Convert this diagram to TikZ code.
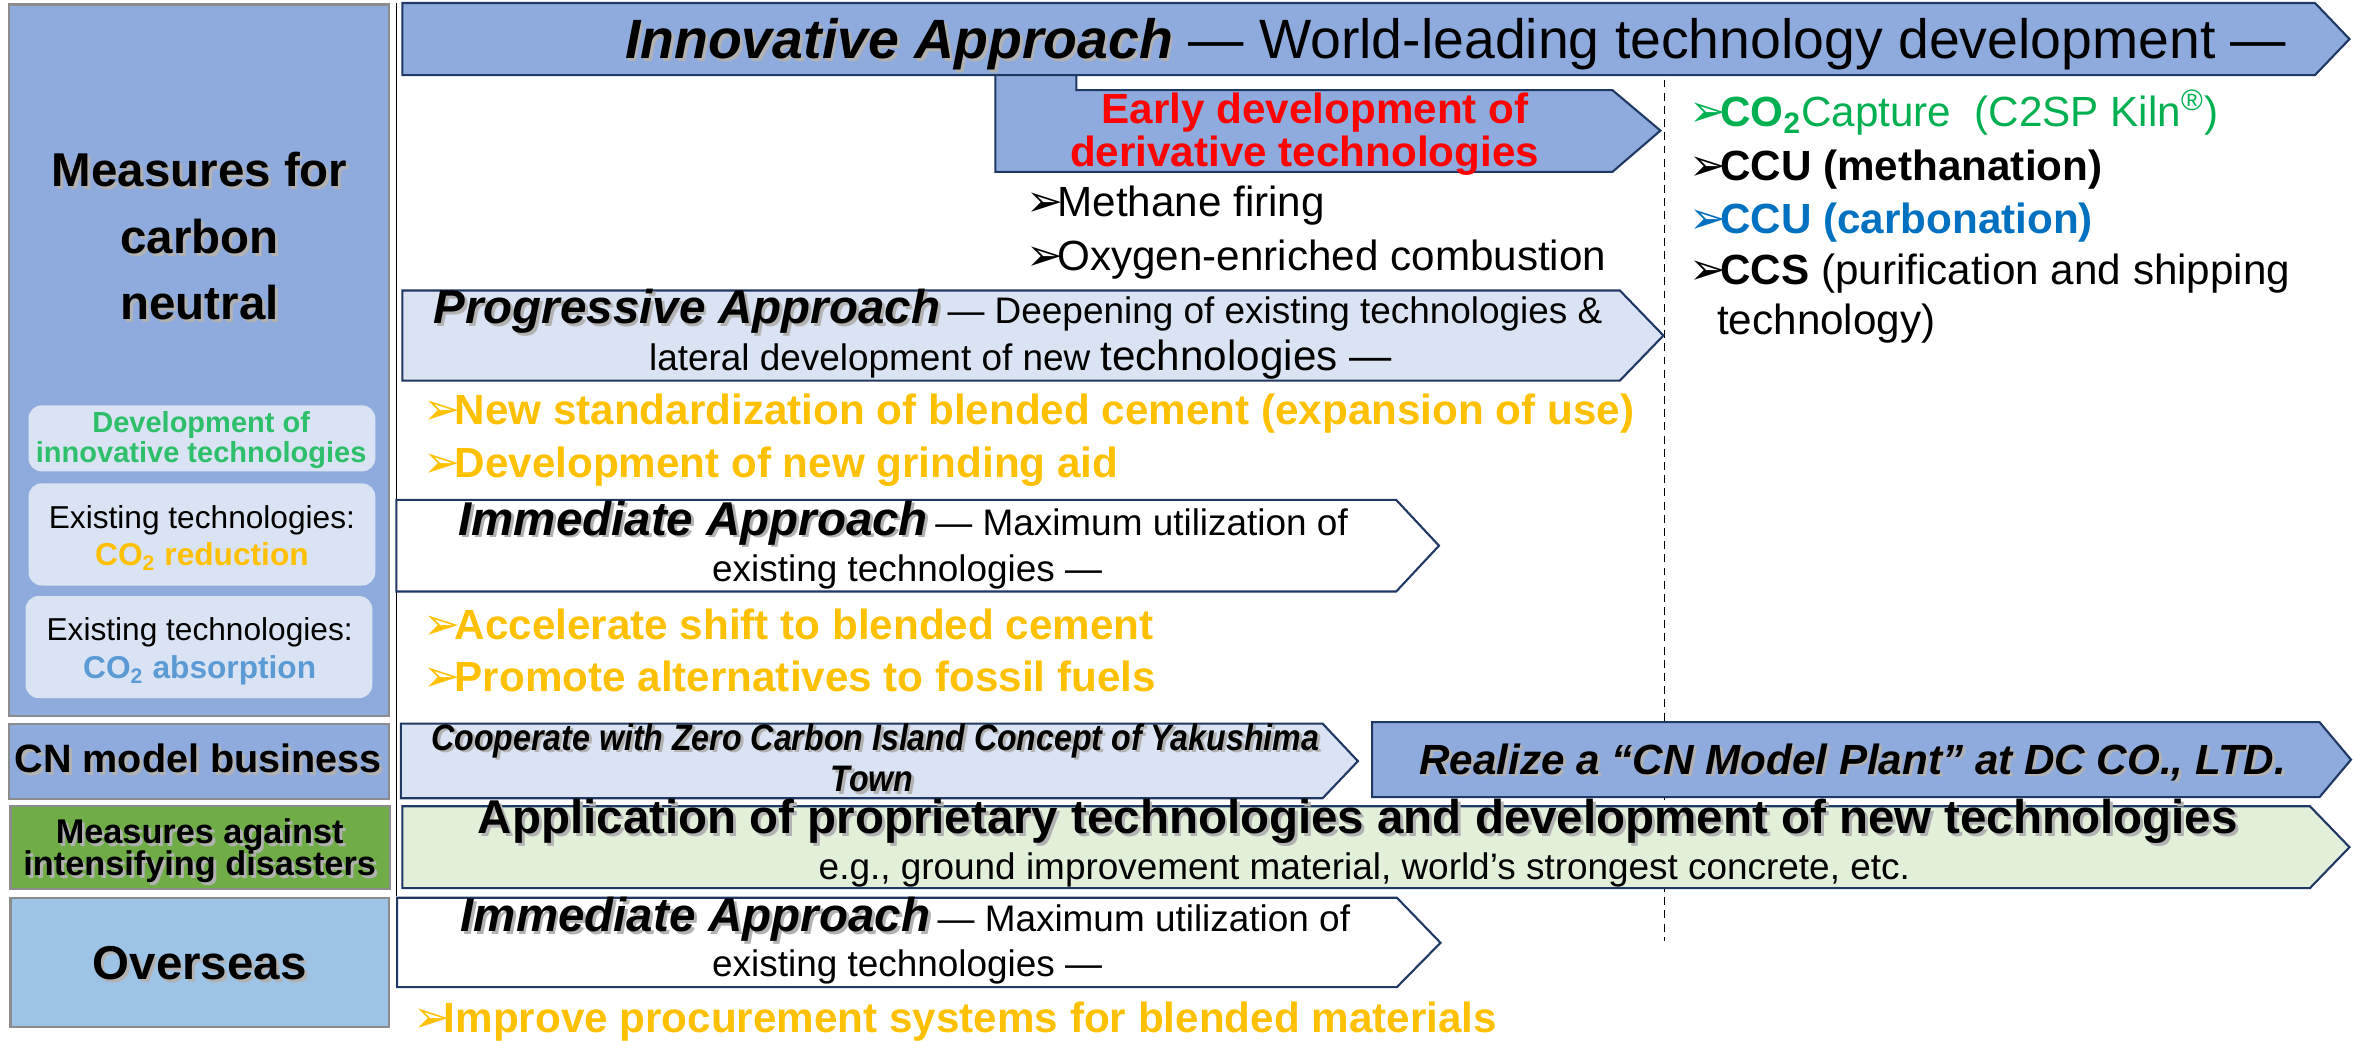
\documentclass[tikz,border=0pt]{standalone}
\usepackage{fontspec}
\setmainfont{Liberation Sans}
\newfontfamily\symfont{DejaVu Sans}
\newfontfamily\narrowfont[FakeStretch=0.87]{Liberation Sans}
\usepackage{xcolor}
\usepackage{tikz}
\usetikzlibrary{positioning}

\definecolor{mainblue}{HTML}{8FAADC}
\definecolor{paleblue}{HTML}{DAE3F3}
\definecolor{skyblue}{HTML}{9DC3E6}
\definecolor{dgreen}{HTML}{70AD47}
\definecolor{palegreen}{HTML}{E2F0D9}
\definecolor{navy}{HTML}{203864}
\definecolor{sidegray}{HTML}{8C8C8C}
\definecolor{ylw}{HTML}{FFC000}
\definecolor{capgreen}{HTML}{00B050}
\definecolor{tagGreen}{HTML}{2DBF6A}
\definecolor{ccublue}{HTML}{0070C0}
\definecolor{absblue}{HTML}{5B9BD5}

\newcommand{\fsz}[1]{\fontsize{#1}{#1}\selectfont}
\newcommand{\bul}{\makebox[0.73em][l]{\symfont\scalebox{1.05}{➢}}}
% text with a soft drop shadow
\newcommand{\shd}[1]{\makebox[0pt][l]{\hspace{1.1pt}\raisebox{-1.1pt}{\textcolor{black!30}{#1}}}#1}

\begin{document}
\begin{tikzpicture}[
    x=0.02cm, y=-0.02cm,
    arrowbox/.style={draw=navy, line width=0.8pt, line join=miter},
    sidebox/.style={draw=sidegray, line width=0.8pt},
    tagbox/.style={fill=paleblue, rounded corners=5pt},
    txt/.style={inner sep=0pt, anchor=base west},
    ctxt/.style={inner sep=0pt, anchor=base},
    head/.style={font=\bfseries\fsz{#1}},
    head/.default=16]
  \useasboundingbox (0,0) rectangle (1568,693);

  % left column
  \draw[sidebox, fill=mainblue] (6,3) rectangle (259,477);
  \fill[tagbox] (19,270) rectangle (250,314);
  \fill[tagbox] (19,322) rectangle (250,390);
  \fill[tagbox] (17,397) rectangle (248,465);
  \draw[sidebox, fill=mainblue] (6,482) rectangle (259,532);
  \draw[sidebox, fill=dgreen] (7,537) rectangle (260,592);
  \draw[sidebox, fill=skyblue] (7,598) rectangle (259,684);

  \node[ctxt, head=18] (cn1) at (133,124) {\shd{Measures for}};
  \node[ctxt, head=18] (cn2) at (133,169) {\shd{carbon}};
  \node[ctxt, head=18] (cn3) at (133,213) {\shd{neutral}};
  \node[ctxt, head=11, text=tagGreen] (inno1) at (134,288) {Development of};
  \node[ctxt, head=11, text=tagGreen] (inno2) at (134,308) {innovative technologies};
  \node[ctxt, font=\fsz{12}] (red1) at (134.5,351.7) {Existing technologies:};
  \node[ctxt, head=12, text=ylw] (red2) at (134.5,376.8) {CO\textsubscript{2} reduction};
  \node[ctxt, font=\fsz{12}] (abs1) at (133,426.6) {Existing technologies:};
  \node[ctxt, head=12, text=absblue] (abs2) at (133,452) {CO\textsubscript{2} absorption};
  \node[ctxt, head=15] (model) at (132,514.7) {\shd{CN model business}};
  \node[ctxt, head=13] (dis1) at (133,561.8) {\shd{Measures against}};
  \node[ctxt, head=13] (dis2) at (133,582.9) {\shd{intensifying disasters}};
  \node[ctxt, head=18] (over) at (133,652.3) {\shd{Overseas}};

  % separators
  \draw[line width=0.5pt] (264,2) -- (264,597);
  \draw[line width=0.4pt, dash pattern=on 3pt off 2pt] (1109,53) -- (1109,627);

  % approach arrows
  \draw[arrowbox, fill=mainblue] (268,2) -- (1542,2) -- (1565,26) -- (1542,50) -- (268,50) -- cycle;
  \draw[arrowbox, fill=mainblue] (663,50) -- (717,50) -- (717,60) -- (1074,60) -- (1106,87) -- (1074,114.5) -- (663,114.5) -- cycle;
  \draw[arrowbox, fill=paleblue] (268,193.5) -- (1079,193.5) -- (1108,223.5) -- (1079,253.5) -- (268,253.5) -- cycle;
  \draw[arrowbox, fill=white] (264,333) -- (930,333) -- (958.5,363.5) -- (930,394) -- (264,394) -- cycle;
  \draw[arrowbox, fill=paleblue] (267,482) -- (881,482) -- (904.5,507) -- (881,531.7) -- (267,531.7) -- cycle;
  \draw[arrowbox, fill=mainblue] (914,481) -- (1545,481) -- (1566,506) -- (1545,531) -- (914,531) -- cycle;
  \draw[arrowbox, fill=palegreen] (268,537) -- (1538.6,537) -- (1565,564.3) -- (1538.6,591.6) -- (268,591.6) -- cycle;
  \draw[arrowbox, fill=white] (264.5,598) -- (930.5,598) -- (959.5,628) -- (930.5,657.5) -- (264.5,657.5) -- cycle;

  % innovative approach
  \node[txt, font=\fsz{21}] (innov) at (416,39) {\textbf{\textit{\shd{Innovative Approach}}} — World-leading technology development —};
  \node[ctxt, head, text=red] (early1) at (876,82) {Early development of};
  \node[ctxt, head, text=red] (early2) at (869,111) {derivative technologies};
  \node[txt, font=\fsz{16}] (meth) at (683.5,144) {\bul Methane firing};
  \node[txt, font=\fsz{16}] (oxy) at (683.5,180) {\bul Oxygen-enriched combustion};

  \node[txt, font=\fsz{16}, text=capgreen] (capt) at (1125,84.4) {\bul\textbf{CO\textsubscript{2}}Capture\hspace{0.55em}(C2SP Kiln\textsuperscript{®})};
  \node[txt, head] (ccum) at (1125,119.9) {\bul CCU (methanation)};
  \node[txt, head, text=ccublue] (ccuc) at (1125,155.4) {\bul CCU (carbonation)};
  \node[txt, font=\fsz{16}] (ccs1) at (1125,189.8) {\bul\textbf{CCS} (purification and shipping};
  \node[txt, font=\fsz{16}] (ccs2) at (1143.5,223) {technology)};

  % progressive approach
  \node[txt] (prog1) at (288.5,215.4) {{\bfseries\itshape\fsz{18}\shd{Progressive Approach}} \fsz{14}— Deepening of existing technologies \&};
  \node[txt] (prog2) at (432,246.5) {\fsz{14}lateral development of new \fsz{16}technologies —};
  \node[txt, head, text=ylw] (std) at (282,283) {\bul New standardization of blended cement (expansion of use)};
  \node[txt, head, text=ylw] (grind) at (282,318) {\bul Development of new grinding aid};

  % immediate approach
  \node[txt] (imm1) at (305,356.4) {{\bfseries\itshape\fsz{18}\shd{Immediate Approach}} \fsz{14}— Maximum utilization of};
  \node[txt, font=\fsz{14}] (imm2) at (474,387.4) {existing technologies —};
  \node[txt, head, text=ylw] (shift) at (282,425.8) {\bul Accelerate shift to blended cement};
  \node[txt, head, text=ylw] (fossil) at (282,460.7) {\bul Promote alternatives to fossil fuels};

  % CN model business
  \node[txt, font=\narrowfont\bfseries\itshape\fsz{14}] (coop1) at (287,499.6) {\shd{Cooperate with Zero Carbon Island Concept of Yakushima}};
  \node[txt, font=\narrowfont\bfseries\itshape\fsz{14}] (coop2) at (553,527.3) {\shd{Town}};
  \node[txt, font=\bfseries\itshape\fsz{16}] (plant) at (945,515.6) {\shd{Realize a “CN Model Plant” at DC CO., LTD.}};

  % disasters
  \node[txt, head=18] (appl) at (318,555) {\shd{Application of proprietary technologies and development of new technologies}};
  \node[txt, font=\fsz{14}] (eg) at (545,586) {e.g., ground improvement material, world’s strongest concrete, etc.};

  % overseas
  \node[txt] (imm3) at (306.5,620.6) {{\bfseries\itshape\fsz{18}\shd{Immediate Approach}} \fsz{14}— Maximum utilization of};
  \node[txt, font=\fsz{14}] (imm4) at (474,650.6) {existing technologies —};
  \node[txt, head, text=ylw] (procure) at (274.8,688) {\bul Improve procurement systems for blended materials};
\end{tikzpicture}
\end{document}
